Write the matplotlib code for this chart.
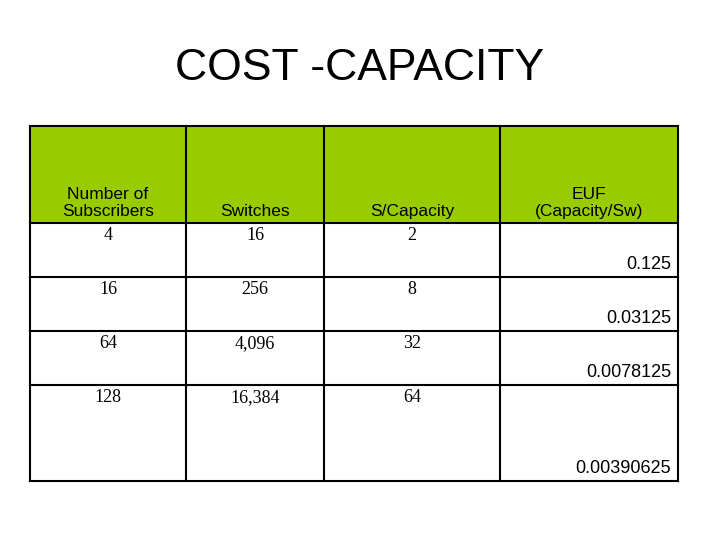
import matplotlib.pyplot as plt
from matplotlib.patches import Rectangle

title = "COST -CAPACITY"
headers = ["Number of\nSubscribers", "Switches", "S/Capacity", "EUF\n(Capacity/Sw)"]
subscribers = ["4", "16", "64", "128"]
switches = ["16", "256", "4,096", "16,384"]
s_capacity = ["2", "8", "32", "64"]
euf = ["0.125", "0.03125", "0.0078125", "0.00390625"]

col_edges = [30, 186, 324, 500, 678]
row_edges = [126, 223, 277, 331, 385, 481]
green = "#99cc00"

fig = plt.figure(figsize=(7.2, 5.4), dpi=100)
ax = fig.add_axes([0, 0, 1, 1])
ax.set_xlim(0, 720)
ax.set_ylim(540, 0)
ax.axis("off")

ax.text(360, 68, title, ha="center", va="center", fontsize=32, family="Liberation Sans")

ax.add_patch(Rectangle((col_edges[0], row_edges[0]), col_edges[-1] - col_edges[0],
                       row_edges[1] - row_edges[0], facecolor=green, edgecolor="none"))
for x in col_edges:
    ax.plot([x, x], [row_edges[0], row_edges[-1]], color="black", lw=1.5)
for y in row_edges:
    ax.plot([col_edges[0], col_edges[-1]], [y, y], color="black", lw=1.5)

for i, h in enumerate(headers):
    cx = (col_edges[i] + col_edges[i + 1]) / 2
    ax.text(cx, row_edges[1] - 4, h, ha="center", va="bottom", fontsize=12.5,
            family="Liberation Sans", linespacing=1.15)

for r in range(4):
    top = row_edges[r + 1]
    for c, col in enumerate([subscribers, switches, s_capacity]):
        cx = (col_edges[c] + col_edges[c + 1]) / 2
        ax.text(cx, top + 4, col[r], ha="center", va="top", fontsize=13,
                family="Liberation Serif")
    ax.text(col_edges[4] - 7, row_edges[r + 2] - 4, euf[r], ha="right", va="bottom",
            fontsize=13, family="Liberation Sans")

fig.savefig("out.png", dpi=100, facecolor="white")
